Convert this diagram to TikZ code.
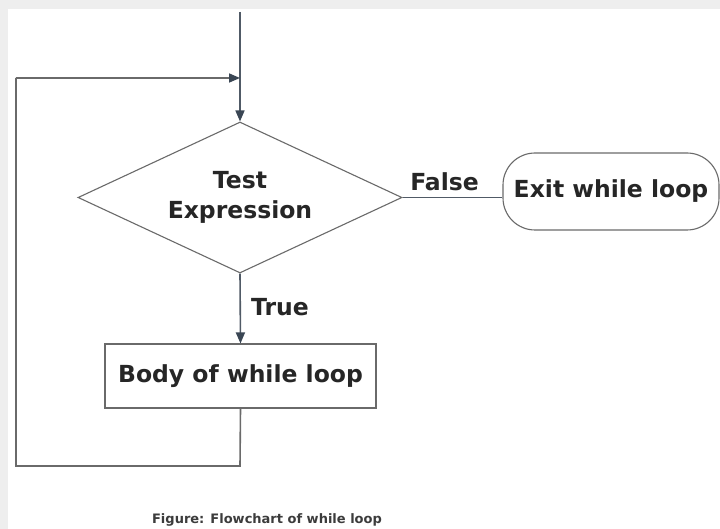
\documentclass[tikz,border=0pt]{standalone}
\usepackage{fontspec}
\setmainfont{DejaVu Sans}
\usetikzlibrary{arrows.meta,shapes.geometric}
\definecolor{frame}{HTML}{EEEEEE}
\definecolor{edge}{HTML}{6A6A6A}
\definecolor{wire}{HTML}{505A66}
\definecolor{tip}{HTML}{3A4654}
\definecolor{ink}{HTML}{262626}
\tikzset{
  wirestyle/.style={draw=wire, line width=1.6pt},
  flow/.style={wirestyle, -{Triangle[length=11pt,width=9pt,fill=tip,color=tip]}},
  shapebox/.style={draw=edge, line width=1.1pt, fill=white, text=ink, font=\bfseries\fontsize{23.5}{30}\selectfont, align=center},
  lbl/.style={text=ink, font=\bfseries\fontsize{23.5}{30}\selectfont, inner sep=0pt}
}
\begin{document}
\begin{tikzpicture}[x=1pt,y=-1pt]
  % page background with grey margin strips
  \fill[frame] (0,0) rectangle (720,529);
  \fill[white] (8,9) rectangle (720,529);
  \useasboundingbox (0,0) rectangle (720,529);

  % nodes
  \coordinate (start) at (240,12);
  \coordinate (join) at (240,78);
  \node[shapebox, diamond, aspect=2.146, minimum width=324pt, minimum height=151pt, inner sep=0pt] (test) at (240,197.5) {Test\\Expression};
  \node[shapebox, rectangle, minimum width=271pt, minimum height=64pt, inner sep=0pt] (body) at (240.5,376) {Body of while loop};
  \node[shapebox, rectangle, rounded corners=32pt, minimum width=216pt, minimum height=77pt, inner sep=0pt] (exit) at (611,191.5) {Exit while loop};
  \coordinate (bl) at (16,466);
  \coordinate (tl) at (16,78);
  \coordinate (br) at (240,466);

  % connectors
  \draw[wirestyle] (start) -- (join);
  \draw[flow] (join) -- (test.north);
  \draw[flow] (test.south) -- node[lbl, right=10pt, pos=0.48] (true) {True} (body.north);
  \draw[wirestyle] (test.east) -- node[lbl, above=6pt, pos=0.42] (false) {False} (exit.west |- test.east);
  \draw[draw=edge, line width=1.6pt] (body.south) -- (br) -- (bl) -- (tl);
  \draw[flow, draw=edge] (tl) -- (join);

  % caption
  \node[text=ink!90, font=\fontsize{13}{16}\selectfont\bfseries, inner sep=0pt] (caption) at (267,520) {Figure: Flowchart of while loop};
\end{tikzpicture}
\end{document}
